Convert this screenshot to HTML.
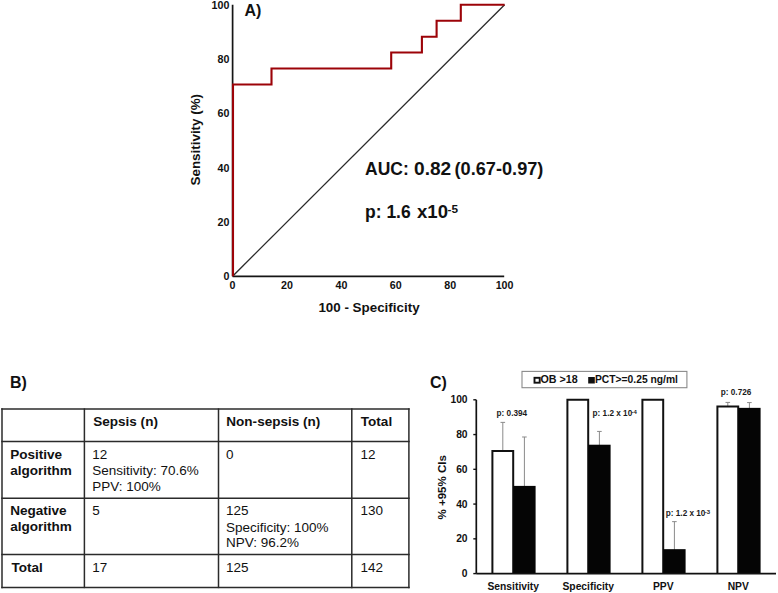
<!DOCTYPE html>
<html><head><meta charset="utf-8"><style>
html,body{margin:0;padding:0;background:#fff;width:778px;height:593px;overflow:hidden}
svg{display:block;font-family:"Liberation Sans", sans-serif}
</style></head><body>
<svg width="778" height="593" viewBox="0 0 778 593">
<rect width="778" height="593" fill="#fff"/>
<line x1="232.6" y1="276.2" x2="504.6" y2="4.7" stroke="#2a2a2a" stroke-width="1.3"/>
<line x1="232.6" y1="4.7" x2="232.6" y2="276.2" stroke="#151515" stroke-width="1.7"/>
<line x1="232.6" y1="276.4" x2="504.20000000000005" y2="276.4" stroke="#151515" stroke-width="1.6"/>
<path d="M233.0,276.2 L233.0,84.5 L271.5,84.5 L271.5,68.5 L391.2,68.5 L391.2,52.5 L421.9,52.5 L421.9,36.7 L436.6,36.7 L436.6,20.7 L460.8,20.7 L460.8,4.7 L504.6,4.7" fill="none" stroke="#9c0308" stroke-width="2.1" stroke-linejoin="miter"/>
<text x="229.4" y="280.3" font-size="10.7" font-weight="bold" text-anchor="end" fill="#111">0</text>
<text x="229.4" y="225.99999999999997" font-size="10.7" font-weight="bold" text-anchor="end" fill="#111">20</text>
<text x="229.4" y="171.7" font-size="10.7" font-weight="bold" text-anchor="end" fill="#111">40</text>
<text x="229.4" y="117.4" font-size="10.7" font-weight="bold" text-anchor="end" fill="#111">60</text>
<text x="229.4" y="63.1" font-size="10.7" font-weight="bold" text-anchor="end" fill="#111">80</text>
<text x="229.4" y="8.799999999999988" font-size="10.7" font-weight="bold" text-anchor="end" fill="#111">100</text>
<text x="232.6" y="289.4" font-size="10.7" font-weight="bold" text-anchor="middle" fill="#111">0</text>
<text x="287.0" y="289.4" font-size="10.7" font-weight="bold" text-anchor="middle" fill="#111">20</text>
<text x="341.4" y="289.4" font-size="10.7" font-weight="bold" text-anchor="middle" fill="#111">40</text>
<text x="395.8" y="289.4" font-size="10.7" font-weight="bold" text-anchor="middle" fill="#111">60</text>
<text x="450.20000000000005" y="289.4" font-size="10.7" font-weight="bold" text-anchor="middle" fill="#111">80</text>
<text x="504.6" y="289.4" font-size="10.7" font-weight="bold" text-anchor="middle" fill="#111">100</text>
<text x="369" y="311.8" font-size="13.4" font-weight="bold" text-anchor="middle" fill="#111">100 - Specificity</text>
<text transform="translate(199.6,139.7) rotate(-90)" font-size="13.4" font-weight="bold" text-anchor="middle" fill="#111">Sensitivity (%)</text>
<text x="244.5" y="15.8" font-size="16" font-weight="bold" fill="#111">A)</text>
<text x="365" y="174.9" font-size="17.5" font-weight="bold" fill="#111">AUC:</text>
<text x="414" y="174.9" font-size="17.5" font-weight="bold" textLength="37.2" lengthAdjust="spacingAndGlyphs" fill="#111">0.82</text>
<text x="454.5" y="174.9" font-size="17.5" font-weight="bold" textLength="88.9" lengthAdjust="spacingAndGlyphs" fill="#111">(0.67-0.97)</text>
<text x="365" y="217.6" font-size="17.5" font-weight="bold" fill="#111">p: 1.6</text>
<text x="417" y="217.6" font-size="17.5" font-weight="bold" textLength="31" lengthAdjust="spacingAndGlyphs" fill="#111">x10</text>
<text x="447.5" y="212.9" font-size="11.8" font-weight="bold" fill="#111">-5</text>
<text x="10" y="387.5" font-size="16" font-weight="bold" fill="#111">B)</text>
<line x1="2.0" y1="408.35" x2="2.0" y2="588.15" stroke="#2b2b2b" stroke-width="1.5"/>
<line x1="84.4" y1="408.35" x2="84.4" y2="588.15" stroke="#2b2b2b" stroke-width="1.5"/>
<line x1="218.5" y1="408.35" x2="218.5" y2="588.15" stroke="#2b2b2b" stroke-width="1.5"/>
<line x1="351.8" y1="408.35" x2="351.8" y2="588.15" stroke="#2b2b2b" stroke-width="1.5"/>
<line x1="408.9" y1="408.35" x2="408.9" y2="588.15" stroke="#2b2b2b" stroke-width="1.5"/>
<line x1="1.25" y1="409.1" x2="409.65" y2="409.1" stroke="#2b2b2b" stroke-width="1.5"/>
<line x1="1.25" y1="441.6" x2="409.65" y2="441.6" stroke="#2b2b2b" stroke-width="1.5"/>
<line x1="1.25" y1="498.2" x2="409.65" y2="498.2" stroke="#2b2b2b" stroke-width="1.5"/>
<line x1="1.25" y1="554.6" x2="409.65" y2="554.6" stroke="#2b2b2b" stroke-width="1.5"/>
<line x1="1.25" y1="587.4" x2="409.65" y2="587.4" stroke="#2b2b2b" stroke-width="1.5"/>
<text transform="translate(93.2,426.1) scale(1.075,1)" font-size="12.6" font-weight="bold" fill="#111">Sepsis (n)</text>
<text transform="translate(226.3,426.1) scale(1.075,1)" font-size="12.6" font-weight="bold" fill="#111">Non-sepsis (n)</text>
<text transform="translate(360.8,426.1) scale(1.075,1)" font-size="12.6" font-weight="bold" fill="#111">Total</text>
<text transform="translate(10.2,458.7) scale(1.075,1)" font-size="12.6" font-weight="bold" fill="#111">Positive</text>
<text transform="translate(10.2,474.6) scale(1.075,1)" font-size="12.6" font-weight="bold" fill="#111">algorithm</text>
<text transform="translate(10.2,515.1) scale(1.075,1)" font-size="12.6" font-weight="bold" fill="#111">Negative</text>
<text transform="translate(10.2,531.0) scale(1.075,1)" font-size="12.6" font-weight="bold" fill="#111">algorithm</text>
<text transform="translate(11.5,572.4) scale(1.075,1)" font-size="12.6" font-weight="bold" fill="#111">Total</text>
<text transform="translate(92.3,459.0) scale(1.055,1)" font-size="12.8" fill="#111">12</text>
<text transform="translate(92.3,474.8) scale(1.055,1)" font-size="12.8" fill="#111">Sensitivity:</text>
<text transform="translate(160.6,474.8) scale(1.055,1)" font-size="12.8" fill="#111">70.6%</text>
<text transform="translate(92.3,491.0) scale(1.055,1)" font-size="12.8" fill="#111">PPV: 100%</text>
<text transform="translate(225.9,459.0) scale(1.055,1)" font-size="12.8" fill="#111">0</text>
<text transform="translate(360.6,459.0) scale(1.055,1)" font-size="12.8" fill="#111">12</text>
<text transform="translate(92.3,515.2) scale(1.055,1)" font-size="12.8" fill="#111">5</text>
<text transform="translate(225.9,515.2) scale(1.055,1)" font-size="12.8" fill="#111">125</text>
<text transform="translate(225.9,531.5) scale(1.055,1)" font-size="12.8" fill="#111">Specificity: 100%</text>
<text transform="translate(225.9,546.9) scale(1.055,1)" font-size="12.8" fill="#111">NPV: 96.2%</text>
<text transform="translate(360.6,515.2) scale(1.055,1)" font-size="12.8" fill="#111">130</text>
<text transform="translate(92.3,572.4) scale(1.055,1)" font-size="12.8" fill="#111">17</text>
<text transform="translate(225.9,572.4) scale(1.055,1)" font-size="12.8" fill="#111">125</text>
<text transform="translate(360.6,572.4) scale(1.055,1)" font-size="12.8" fill="#111">142</text>
<text x="430" y="387.6" font-size="16" font-weight="bold" fill="#111">C)</text>
<rect x="522.0" y="371.4" width="164.9" height="16.3" fill="#fff" stroke="#8a8a8a" stroke-width="1.1"/>
<rect x="534.5" y="377.8" width="5.2" height="4.9" fill="#fff" stroke="#111" stroke-width="1.9"/>
<text x="540.5" y="383.4" font-size="10.3" font-weight="bold" textLength="37.2" lengthAdjust="spacingAndGlyphs" fill="#111">OB &gt;18</text>
<rect x="588.2" y="377.0" width="6.6" height="6.5" fill="#111"/>
<text x="595.0" y="383.4" font-size="10.3" font-weight="bold" fill="#111">PCT&gt;=0.25 ng/ml</text>
<line x1="502.80" y1="450.90" x2="502.80" y2="422.39" stroke="#8a8a8a" stroke-width="1"/>
<line x1="500.50" y1="422.39" x2="505.10" y2="422.39" stroke="#8a8a8a" stroke-width="1"/>
<line x1="524.40" y1="486.70" x2="524.40" y2="436.99" stroke="#8a8a8a" stroke-width="1"/>
<line x1="522.10" y1="436.99" x2="526.70" y2="436.99" stroke="#8a8a8a" stroke-width="1"/>
<path d="M492.40,573.60 V450.90 H513.20 V573.60" fill="#fff" stroke="#111" stroke-width="2"/>
<rect x="513.20" y="485.90" width="22.40" height="87.70" fill="#050505"/>
<line x1="599.40" y1="445.51" x2="599.40" y2="431.43" stroke="#8a8a8a" stroke-width="1"/>
<line x1="597.10" y1="431.43" x2="601.70" y2="431.43" stroke="#8a8a8a" stroke-width="1"/>
<path d="M567.40,573.60 V399.80 H588.20 V573.60" fill="#fff" stroke="#111" stroke-width="2"/>
<rect x="588.20" y="444.71" width="22.40" height="128.89" fill="#050505"/>
<line x1="674.40" y1="549.96" x2="674.40" y2="521.63" stroke="#8a8a8a" stroke-width="1"/>
<line x1="672.10" y1="521.63" x2="676.70" y2="521.63" stroke="#8a8a8a" stroke-width="1"/>
<path d="M642.40,573.60 V399.80 H663.20 V573.60" fill="#fff" stroke="#111" stroke-width="2"/>
<rect x="663.20" y="549.16" width="22.40" height="24.44" fill="#050505"/>
<line x1="727.80" y1="406.40" x2="727.80" y2="402.41" stroke="#8a8a8a" stroke-width="1"/>
<line x1="725.50" y1="402.41" x2="730.10" y2="402.41" stroke="#8a8a8a" stroke-width="1"/>
<line x1="749.40" y1="408.66" x2="749.40" y2="402.58" stroke="#8a8a8a" stroke-width="1"/>
<line x1="747.10" y1="402.58" x2="751.70" y2="402.58" stroke="#8a8a8a" stroke-width="1"/>
<path d="M717.40,573.60 V406.40 H738.20 V573.60" fill="#fff" stroke="#111" stroke-width="2"/>
<rect x="738.20" y="407.86" width="22.40" height="165.74" fill="#050505"/>
<line x1="476.3" y1="399.8" x2="476.3" y2="573.6" stroke="#111" stroke-width="1.7"/>
<line x1="476.3" y1="573.6" x2="776.0" y2="573.6" stroke="#111" stroke-width="1.7"/>
<line x1="473.3" y1="573.60" x2="476.3" y2="573.60" stroke="#111" stroke-width="1.4"/>
<text x="467.6" y="577.20" font-size="10.3" font-weight="bold" text-anchor="end" fill="#111">0</text>
<line x1="473.3" y1="538.84" x2="476.3" y2="538.84" stroke="#111" stroke-width="1.4"/>
<text x="467.6" y="542.44" font-size="10.3" font-weight="bold" text-anchor="end" fill="#111">20</text>
<line x1="473.3" y1="504.08" x2="476.3" y2="504.08" stroke="#111" stroke-width="1.4"/>
<text x="467.6" y="507.68" font-size="10.3" font-weight="bold" text-anchor="end" fill="#111">40</text>
<line x1="473.3" y1="469.32" x2="476.3" y2="469.32" stroke="#111" stroke-width="1.4"/>
<text x="467.6" y="472.92" font-size="10.3" font-weight="bold" text-anchor="end" fill="#111">60</text>
<line x1="473.3" y1="434.56" x2="476.3" y2="434.56" stroke="#111" stroke-width="1.4"/>
<text x="467.6" y="438.16" font-size="10.3" font-weight="bold" text-anchor="end" fill="#111">80</text>
<line x1="473.3" y1="399.80" x2="476.3" y2="399.80" stroke="#111" stroke-width="1.4"/>
<text x="467.6" y="403.40" font-size="10.3" font-weight="bold" text-anchor="end" fill="#111">100</text>
<text x="513.25" y="589.5" font-size="10.3" font-weight="bold" text-anchor="middle" fill="#111">Sensitivity</text>
<text x="588.25" y="589.5" font-size="10.3" font-weight="bold" text-anchor="middle" fill="#111">Specificity</text>
<text x="663.25" y="589.5" font-size="10.3" font-weight="bold" text-anchor="middle" fill="#111">PPV</text>
<text x="738.25" y="589.5" font-size="10.3" font-weight="bold" text-anchor="middle" fill="#111">NPV</text>
<text transform="translate(445.5,487.3) rotate(-90)" font-size="11.5" font-weight="bold" text-anchor="middle" fill="#111">% +95% CIs</text>
<text x="496.6" y="415.9" font-size="8.2" font-weight="bold" fill="#1a1a1a">p: 0.394</text>
<text x="592.6" y="415.6" font-size="8.2" font-weight="bold" fill="#1a1a1a">p: 1.2 x 10</text>
<text x="631.6" y="413.9" font-size="6.0" font-weight="bold" fill="#1a1a1a">-4</text>
<text x="665.8" y="515.6" font-size="8.2" font-weight="bold" fill="#1a1a1a">p: 1.2 x 10</text>
<text x="704.8" y="513.9" font-size="6.0" font-weight="bold" fill="#1a1a1a">-3</text>
<text x="720.8" y="394.8" font-size="8.2" font-weight="bold" fill="#1a1a1a">p: 0.726</text>
</svg>
</body></html>
